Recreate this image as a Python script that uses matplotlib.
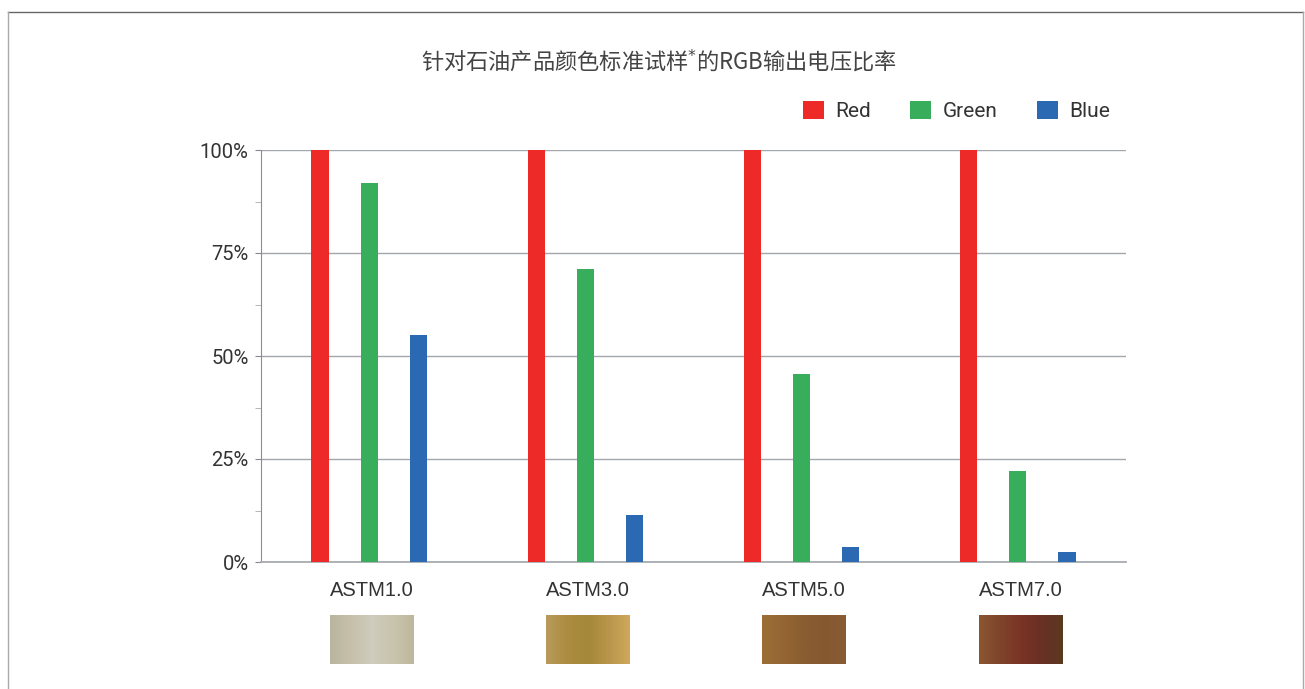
import numpy as np
import matplotlib
matplotlib.use("Agg")
import matplotlib.pyplot as plt
from matplotlib.patches import Patch
from matplotlib.lines import Line2D
from matplotlib.colors import LinearSegmentedColormap

categories = ["ASTM1.0", "ASTM3.0", "ASTM5.0", "ASTM7.0"]
red_vals = [100, 100, 100, 100]
green_vals = [92, 71, 45.6, 22]
blue_vals = [55, 11.4, 3.6, 2.5]
series_names = ["Red", "Green", "Blue"]
series_colors = ["#ee2a29", "#38ae5c", "#2b6ab3"]
yticks = [0, 25, 50, 75, 100]
ytick_labels = ["0%", "25%", "50%", "75%", "100%"]
title = "针对石油产品颜色标准试样$^{*}$的RGB输出电压比率"
swatch_colors = [
    ["#bab59e", "#c6c0ab", "#cfccbd", "#c9c4ad", "#bdb89c"],
    ["#b89b5d", "#ab8c40", "#a6883a", "#b8954a", "#cfa95c"],
    ["#9c6e37", "#946633", "#8a5d31", "#865831", "#8a5c34"],
    ["#8c5632", "#7f442b", "#7a3325", "#693024", "#5a3920"],
]

W, H = 1305, 689
fig = plt.figure(figsize=(W / 100, H / 100), dpi=100)
fig.patch.set_facecolor("white")

# frame lines
fig.add_artist(Line2D([8 / W, 1303 / W], [1 - 12 / H, 1 - 12 / H], color="#666666", lw=1.0))
fig.add_artist(Line2D([8 / W, 8 / W], [0, 1 - 12 / H], color="#aaaaaa", lw=1.0))
fig.add_artist(Line2D([1303 / W, 1303 / W], [0, 1 - 12 / H], color="#aaaaaa", lw=1.0))

ax = fig.add_axes([261 / W, 1 - 562 / H, (1126 - 261) / W, (562 - 150) / H])

x = np.arange(len(categories)) + 0.5
bw = 0.079
off = 0.227
for vals, c, k in zip([red_vals, green_vals, blue_vals], series_colors, [-1, 0, 1]):
    ax.bar(x + k * off, vals, width=bw, color=c, zorder=3)

ax.set_xlim(0, 4)
ax.set_ylim(0, 100)
ax.set_yticks(yticks)
ax.set_yticklabels(ytick_labels, fontsize=14.5, color="#333333", family="Roboto")
ax.set_yticks(np.arange(12.5, 100, 25), minor=True)
ax.tick_params(axis="y", which="major", length=4, color="#888888", pad=5)
ax.tick_params(axis="y", which="minor", length=4, color="#aaaaaa")
ax.yaxis.grid(True, which="major", color="#a3a7ad", lw=1.0, zorder=0)
ax.set_xticks(x + 0.012)
ax.set_xticklabels(categories, fontsize=14.5, color="#333333", family="Liberation Sans")
ax.tick_params(axis="x", length=0, pad=14)
for s in ["top", "right"]:
    ax.spines[s].set_visible(False)
ax.spines["left"].set_color("#8a8f96")
ax.spines["bottom"].set_color("#a8abb0")
ax.spines["bottom"].set_linewidth(1.3)

# color swatches beneath categories
for xi, cols in zip(x, swatch_colors):
    iax = ax.inset_axes([xi + 0.012 - 0.193, -0.248, 0.386, 0.119], transform=ax.get_xaxis_transform())
    cmap = LinearSegmentedColormap.from_list("s", cols)
    iax.imshow(np.linspace(0, 1, 256)[None, :], aspect="auto", cmap=cmap)
    iax.axis("off")

fig.text(659 / W, 1 - 61 / H, title, ha="center", va="center", fontsize=16, color="#444444",
         family=["Noto Sans CJK SC", "DejaVu Sans"])

handles = [Patch(facecolor=c, edgecolor="none") for c in series_colors]
fig.legend(handles, series_names, loc="center left", bbox_to_anchor=(784 / W, 1 - 111 / H), ncol=3,
           frameon=False, handlelength=1.0, handleheight=1.0, handletextpad=0.55,
           columnspacing=1.9, prop={"family": "Roboto", "size": 15}, labelcolor="#333333")

fig.savefig("out.png", dpi=100)
